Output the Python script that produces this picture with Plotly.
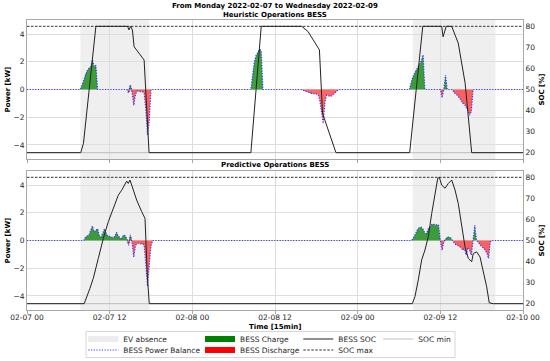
import pandas as pd
import plotly.graph_objects as go

START = pd.Timestamp("2022-02-07 00:00")
END = pd.Timestamp("2022-02-10 00:00")

# EV absence windows, hours since START
ev_abs_start_h = [7.75, 56.0]
ev_abs_end_h = [17.75, 68.0]

SOC_MAX = 80
SOC_MIN = 20

# Heuristic operations: SOC (%) vs hours since START
heur_soc_h = [0, 7.8, 8.2, 10.0, 14.6, 14.8, 15.05, 15.3, 15.55, 15.92, 17.0, 17.72,
              32.5, 34.0, 39.87, 40.8, 41.8, 42.45, 42.9, 44.85,
              55.55, 57.45, 60.2, 60.4, 60.85, 61.65, 62.6, 63.6, 64.55, 72]
heur_soc = [20, 20, 24.5, 80, 80, 78.3, 80, 78.3, 70.3, 68.8, 64, 20,
            20, 80, 80, 77.5, 72, 68.8, 38.7, 20,
            20, 80, 80, 75, 80, 80, 72, 53, 20, 20]

# Heuristic operations: BESS power balance (kW)
heur_p_h = [0, 7.75, 8.0, 8.25, 8.5, 8.75, 9.0, 9.25, 9.5, 9.75, 10.0, 10.25,
            14.5, 14.75, 15.0, 15.25, 15.5, 15.75, 16.0, 16.25, 16.5, 16.75, 17.0, 17.25, 17.5, 17.75, 18.0,
            32.5, 32.75, 33.0, 33.25, 33.5, 33.75, 34.0, 34.25,
            39.75, 40.0, 40.25, 40.5, 40.75, 41.0, 41.25, 41.5, 41.75, 42.0, 42.25, 42.5, 42.75, 43.0,
            43.25, 43.5, 43.75, 44.0, 44.25, 44.5, 44.75, 45.0, 45.25,
            55.5, 55.75, 56.0, 56.25, 56.5, 56.75, 57.0, 57.25, 57.5, 57.75,
            60.0, 60.25, 60.5, 60.75, 61.0,
            61.75, 62.0, 62.25, 62.5, 62.75, 63.0, 63.25, 63.5, 63.75, 64.0, 64.25, 64.5, 64.75, 72]
heur_p = [0, 0, 0.35, 0.7, 1.15, 1.35, 1.55, 1.65, 2.15, 1.65, 1.75, 0,
          0, -0.25, 0.35, -0.2, -1.15, -0.35, -0.1, -0.15, -0.15, -0.15, -0.25, -1.45, -3.3, -2.3, 0,
          0, 1.1, 2.0, 2.45, 2.7, 2.9, 2.8, 0,
          0, -0.05, -0.1, -0.15, -0.2, -0.25, -0.3, -0.3, -0.3, -0.35, -0.35, -0.8, -1.6, -2.45,
          -0.9, -0.4, -0.45, -0.5, -0.45, -0.35, -0.25, -0.1, 0,
          0, 0.5, 0.9, 1.15, 1.4, 1.6, 1.8, 2.1, 2.5, 0,
          0, -0.6, 0, 1.05, 0,
          0, -0.25, -0.3, -0.45, -0.6, -0.75, -1.0, -1.05, -1.3, -1.5, -1.85, -1.6, 0, 0]

# Predictive operations: SOC (%)
pred_soc_h = [0, 8.3, 9.14, 9.62, 10.35, 11.08, 11.8, 12.53, 13.25, 13.75, 14.22, 14.47, 14.7,
              14.95, 15.2, 15.92, 16.65, 17.13, 17.46, 17.75,
              55.93, 56.32, 56.8, 57.29, 57.77, 58.25, 58.75, 59.23, 59.62, 59.85, 60.2, 60.68,
              61.16, 61.65, 62.13, 62.6, 63.1, 63.58, 64.06, 64.55, 64.78, 65.27, 65.76, 66.24,
              66.73, 67.1, 67.7, 72]
pred_soc = [20, 20, 27.3, 32, 41.5, 51, 58.9, 65.2, 71.5, 73.9, 76.3, 78.2, 77.1,
            78.7, 76.3, 69.2, 63.7, 60.5, 33.6, 20,
            20, 23.4, 31.3, 40.8, 45.5, 51.8, 62.9, 72.4, 79.5, 80, 76.3, 74.8,
            77.1, 78.7, 74, 67.6, 56.5, 47, 41.5, 39.9, 43.8, 44.6, 42.2, 35.9,
            28, 20.4, 20, 20]

# Predictive operations: BESS power balance (kW)
pred_p_h = [0, 8.25, 8.5, 8.75, 9.0, 9.25, 9.5, 9.75, 10.0, 10.25, 10.5, 10.75, 11.0, 11.25,
            11.5, 11.75, 12.0, 12.25, 12.5, 12.75, 13.0, 13.25, 13.5, 13.75, 14.0, 14.25, 14.5,
            14.75, 15.0, 15.25, 15.5, 15.75, 16.0, 16.25, 16.5, 16.75, 17.0, 17.25, 17.5, 17.75,
            18.0, 18.25,
            55.75, 56.0, 56.25, 56.5, 56.75, 57.0, 57.25, 57.5, 57.75, 58.0, 58.25, 58.5, 58.75,
            59.0, 59.25, 59.5, 59.75, 60.0, 60.25, 60.5, 60.75, 61.0, 61.25, 61.5, 61.75,
            62.0, 62.25, 62.5, 62.75, 63.0, 63.25, 63.5, 63.75, 64.0, 64.25, 64.5, 64.75,
            65.0, 65.25, 65.5, 65.75, 66.0, 66.25, 66.5, 66.75, 67.0, 67.25, 67.5, 72]
pred_p = [0, 0, 0.25, 0.35, 0.4, 0.75, 1.05, 0.6, 0.75, 0.85, 0.35, 0.25, 0.55, 0.85,
          0.5, 0.3, 0.3, 0.25, 0.2, 0.3, 0.6, 0.3, 0.2, 0.15, 0.4, 0.35, 0.1,
          -0.35, 0.4, -0.1, -1.2, -0.35, -0.2, -0.2, -0.25, -0.25, -0.3, -1.6, -3.3, -1.8,
          -0.4, 0,
          0, 0.1, 0.35, 0.6, 0.85, 0.95, 0.95, 0.8, 0.55, 0.5, 0.85, 1.0, 1.15,
          1.2, 1.1, 1.15, 1.1, 0, -0.7, -0.1, 0.1, 0.25, 0.25, 0.2, 0,
          -0.15, -0.3, -0.35, -0.45, -0.5, -0.7, -0.6, -1.05, -0.5, -0.7, -1.05, 0,
          1.1, 0, -0.1, -0.3, -0.4, -0.55, -0.7, -0.9, -1.3, -0.1, 0, 0]

FONT = "DejaVu Sans"
TXT = "#262626"
GREEN_FILL = "rgba(0,128,0,0.75)"
RED_FILL = "rgba(255,0,0,0.6)"
BLUE = "rgba(40,40,255,0.9)"


def ts(hours):
    return [START + pd.Timedelta(hours=h) for h in hours]


fig = go.Figure()

panels = [
    dict(xa="x", yl="y", yr="y2", soc_h=heur_soc_h, soc=heur_soc, p_h=heur_p_h, p=heur_p, legend=True),
    dict(xa="x2", yl="y3", yr="y4", soc_h=pred_soc_h, soc=pred_soc, p_h=pred_p_h, p=pred_p, legend=False),
]

for pnl in panels:
    t = ts(pnl["p_h"])
    charge = [max(v, 0) for v in pnl["p"]]
    discharge = [min(v, 0) for v in pnl["p"]]
    fig.add_trace(go.Scatter(x=t, y=charge, xaxis=pnl["xa"], yaxis=pnl["yl"], mode="none",
                             fill="tozeroy", fillcolor=GREEN_FILL, showlegend=False, name="BESS Charge"))
    fig.add_trace(go.Scatter(x=t, y=discharge, xaxis=pnl["xa"], yaxis=pnl["yl"], mode="none",
                             fill="tozeroy", fillcolor=RED_FILL, showlegend=False, name="BESS Discharge"))
    fig.add_trace(go.Scatter(x=t, y=pnl["p"], xaxis=pnl["xa"], yaxis=pnl["yl"], mode="lines",
                             line=dict(color=BLUE, width=1.2, dash="1.2px,1.5px"),
                             name="BESS Power Balance", showlegend=pnl["legend"], legend="legend5"))
    fig.add_trace(go.Scatter(x=[START, END], y=[SOC_MIN, SOC_MIN], xaxis=pnl["xa"], yaxis=pnl["yr"],
                             mode="lines", line=dict(color="#b0b0b0", width=0.8),
                             name="SOC min", showlegend=pnl["legend"], legend="legend4"))
    fig.add_trace(go.Scatter(x=[START, END], y=[SOC_MAX, SOC_MAX], xaxis=pnl["xa"], yaxis=pnl["yr"],
                             mode="lines", line=dict(color="#333333", width=1, dash="2.5px,1.5px"),
                             name="SOC max", showlegend=pnl["legend"], legend="legend7"))
    fig.add_trace(go.Scatter(x=ts(pnl["soc_h"]), y=pnl["soc"], xaxis=pnl["xa"], yaxis=pnl["yr"],
                             mode="lines", line=dict(color="#222222", width=1),
                             name="BESS SOC", showlegend=pnl["legend"], legend="legend3"))

# legend-only entries for patches
fig.add_trace(go.Scatter(x=[None], y=[None], mode="none", fill="toself", fillcolor="#ececec",
                         name="EV absence", legend="legend"))
fig.add_trace(go.Scatter(x=[None], y=[None], mode="none", fill="toself", fillcolor="#008000",
                         name="BESS Charge", legend="legend2"))
fig.add_trace(go.Scatter(x=[None], y=[None], mode="none", fill="toself", fillcolor="#ff0000",
                         name="BESS Discharge", legend="legend6"))

# EV absence shading
shapes = []
for xa, ya in [("x", "y"), ("x2", "y3")]:
    for s, e in zip(ev_abs_start_h, ev_abs_end_h):
        shapes.append(dict(type="rect", xref=xa, yref=ya + " domain",
                           x0=START + pd.Timedelta(hours=s), x1=START + pd.Timedelta(hours=e),
                           y0=0, y1=1, fillcolor="#efefef", line=dict(width=0), layer="below"))

# pixel helpers for paper coordinates
L, R, T, B, W, H = 27, 27, 20, 51, 550, 361
PW, PH = W - L - R, H - T - B


def px(xp):
    return (xp - L) / PW


def py(yp):
    return (H - B - yp) / PH


# legend frame
shapes.append(dict(type="rect", xref="paper", yref="paper", x0=px(86), x1=px(455), y0=py(357.5), y1=py(331.5),
                   line=dict(color="#cccccc", width=0.8), fillcolor="rgba(255,255,255,0.8)", layer="below"))

top_dom = [py(159), 1.0]
bot_dom = [0.0, py(171)]

axis_common = dict(showline=True, linecolor="#a8a8a8", linewidth=1, mirror=True, zeroline=False,
                   tickfont=dict(family=FONT, size=7.5, color=TXT))
xcommon = dict(axis_common, type="date", range=[START, END], dtick=12 * 3600 * 1000, tick0=START,
               tickformat="%m-%d %H", showgrid=True, gridcolor="#dedede", gridwidth=0.8,
               ticks="outside", ticklen=3, tickcolor="#a8a8a8", ticklabelstandoff=-3)
yleft = dict(axis_common, range=[-5.02, 5.02], tickvals=[-4, -2, 0, 2, 4], showgrid=True,
             gridcolor="#dedede", gridwidth=0.8)
yright = dict(axis_common, range=[17, 83], tickvals=[20, 30, 40, 50, 60, 70, 80], showgrid=False,
              side="right")

legend_base = dict(bgcolor="rgba(0,0,0,0)", borderwidth=0, orientation="v", yanchor="middle",
                   xanchor="left", font=dict(family=FONT, size=7.5, color=TXT), itemclick=False)
row1, row2 = py(339), py(350)
cols = [123.3, 240, 338.3, 418.3]
leg = {}
placements = [("legend", 0, row1), ("legend2", 1, row1), ("legend3", 2, row1), ("legend4", 3, row1),
              ("legend5", 0, row2), ("legend6", 1, row2), ("legend7", 2, row2)]
for name, c, r in placements:
    leg[name] = dict(legend_base, x=px(cols[c] - 40), y=r)

annotations = [
    dict(text="<b>From Monday 2022-02-07 to Wednesday 2022-02-09</b>", x=0.5, y=py(6)),
    dict(text="<b>Heuristic Operations BESS</b>", x=0.5, y=py(15)),
    dict(text="<b>Predictive Operations BESS</b>", x=0.5, y=py(165)),
    dict(text="<b>Time [15min]</b>", x=0.5, y=py(327)),
    dict(text="<b>Power [kW]</b>", x=px(7), y=py(89.5), textangle=-90),
    dict(text="<b>Power [kW]</b>", x=px(7), y=py(240.5), textangle=-90),
    dict(text="<b>SOC [%]</b>", x=px(541), y=py(89.5), textangle=-90),
    dict(text="<b>SOC [%]</b>", x=px(541), y=py(240.5), textangle=-90),
]
for a in annotations:
    a.update(xref="paper", yref="paper", showarrow=False, xanchor="center", yanchor="middle",
             font=dict(family=FONT, size=7.0, color="black"), borderpad=0)

fig.update_layout(
    width=W, height=H,
    margin=dict(l=L, r=R, t=T, b=B, autoexpand=False),
    paper_bgcolor="white", plot_bgcolor="white",
    font=dict(family=FONT, size=7.5, color=TXT),
    xaxis=dict(xcommon, domain=[0, 1], anchor="y", showticklabels=False),
    yaxis=dict(yleft, domain=top_dom, anchor="x"),
    yaxis2=dict(yright, overlaying="y", anchor="x"),
    xaxis2=dict(xcommon, domain=[0, 1], anchor="y3", matches="x"),
    yaxis3=dict(yleft, domain=bot_dom, anchor="x2"),
    yaxis4=dict(yright, overlaying="y3", anchor="x2"),
    shapes=shapes,
    annotations=annotations,
    showlegend=True,
    **leg,
)

fig.write_html("out.html",
               config={"displayModeBar": False},
               post_script="document.body.style.margin='0px';document.body.style.padding='0px';"
                           "document.documentElement.style.overflow='hidden';")
